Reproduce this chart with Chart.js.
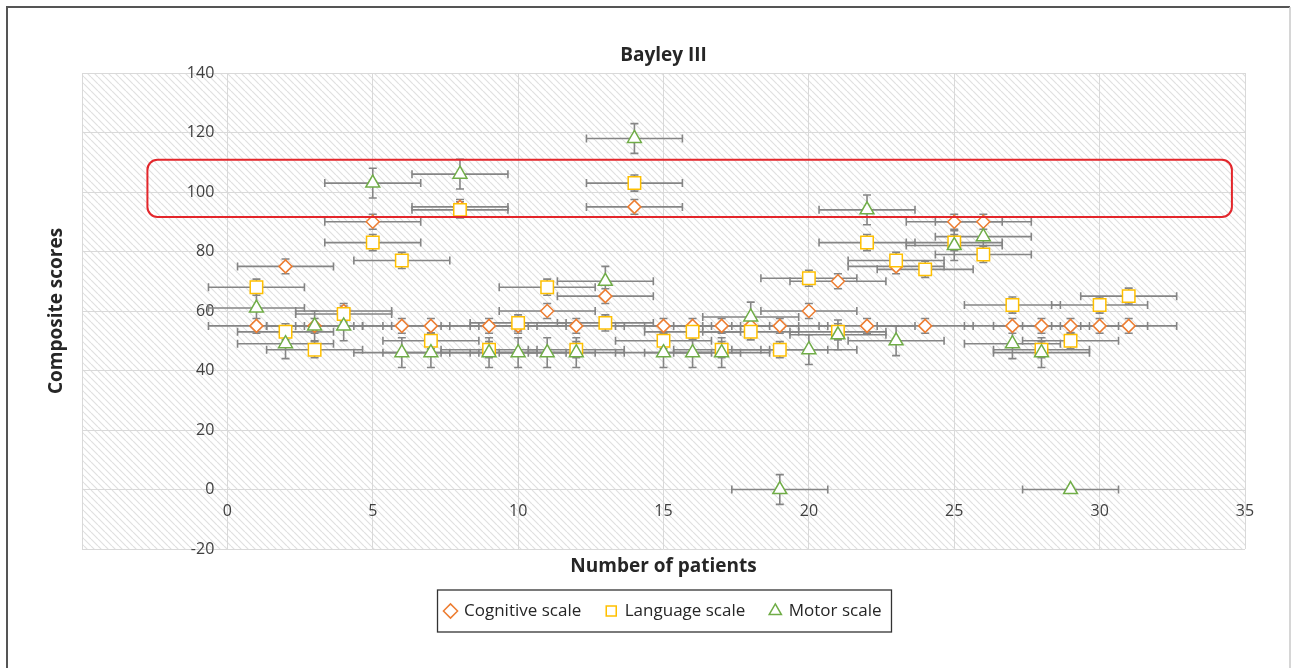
<!DOCTYPE html>
<html lang="en">
<head>
<meta charset="UTF-8">
<title>Bayley III</title>
<script src="https://cdn.jsdelivr.net/npm/chart.js"></script>
<style>
  body { margin: 0; background: #fff; }
  canvas { display: block; }
</style>
</head>
<body>
<canvas id="bayleyChart" width="1292" height="668"></canvas>
<script>
// patient number (x) and composite score per scale (y)
const patients  = [1, 2, 3, 4, 5, 6, 7, 8, 9, 10, 11, 12, 13, 14, 15, 16, 17, 18, 19, 20, 21, 22, 23, 24, 25, 26, 27, 28, 29, 30, 31];
const cognitive = [55, 75, 55, 60, 90, 55, 55, 95, 55, 55, 60, 55, 65, 95, 55, 55, 55, 55, 55, 60, 70, 55, 75, 55, 90, 90, 55, 55, 55, 55, 55];
const language  = [68, 53, 47, 59, 83, 77, 50, 94, 47, 56, 68, 47, 56, 103, 50, 53, 47, 53, 47, 71, 53, 83, 77, 74, 83, 79, 62, 47, 50, 62, 65];
const motor     = [61, 49, 55, 55, 103, 46, 46, 106, 46, 46, 46, 46, 70, 118, 46, 46, 46, 58, 0, 47, 52, 94, 50, null, 82, 85, 49, 46, 0, null, null];

// error bars (fixed values, motor ones read point by point)
const xError = 1.65;
const cognitiveErr = 2.5;
const languageErr = 2.7;
const motorErr = [5, 5, 5, 5, 5, 5, 5, 5, 5, 5, 5, 5, 5, 5, 5, 5, 5, 5, 5, 5, 5, 5, 5, 5, 5, 5, 5, 5, 0, 5, 5];

const xTicks = [0, 5, 10, 15, 20, 25, 30, 35];
const yTicks = [-20, 0, 20, 40, 60, 80, 100, 120, 140];

const FONT = '"Open Sans", Lato, sans-serif';

function points(values, errY) {
    const out = [];
    values.forEach((v, i) => {
        if (v === null) return;
        out.push({ x: patients[i], y: v, ex: xError, ey: Array.isArray(errY) ? errY[i] : errY });
    });
    return out;
}

// diagonal hatch behind the plot + outer frame
const backgroundPlugin = {
    id: 'background',
    beforeDraw(chart) {
        const { ctx, chartArea: a } = chart;
        const s = 7;
        const tile = document.createElement('canvas');
        tile.width = s; tile.height = s;
        const t = tile.getContext('2d');
        t.fillStyle = '#ffffff';
        t.fillRect(0, 0, s, s);
        t.strokeStyle = '#e0e0e0';
        t.lineWidth = 1.2;
        t.beginPath();
        [-s, 0, s].forEach(k => { t.moveTo(k, 0); t.lineTo(k + s, s); });
        t.stroke();
        ctx.save();
        ctx.fillStyle = ctx.createPattern(tile, 'repeat');
        ctx.fillRect(a.left, a.top, a.right - a.left, a.bottom - a.top);

        // frame
        ctx.strokeStyle = '#555';
        ctx.lineWidth = 2;
        ctx.beginPath();
        ctx.moveTo(7, 668); ctx.lineTo(7, 7); ctx.lineTo(1290, 7);
        ctx.stroke();
        ctx.strokeStyle = '#c8c8c8';
        ctx.lineWidth = 1.5;
        ctx.beginPath();
        ctx.moveTo(1290, 7); ctx.lineTo(1290, 668);
        ctx.stroke();
        ctx.restore();
    }
};

// horizontal and vertical error bars with caps
const errorBarPlugin = {
    id: 'errorBars',
    beforeDatasetsDraw(chart) {
        const { ctx } = chart;
        const xs = chart.scales.x, ys = chart.scales.y;
        const cap = 4;
        ctx.save();
        ctx.strokeStyle = '#858585';
        ctx.lineWidth = 1.6;
        chart.data.datasets.forEach(ds => {
            ds.data.forEach(p => {
                const px = xs.getPixelForValue(p.x);
                const py = ys.getPixelForValue(p.y);
                const x1 = xs.getPixelForValue(p.x - p.ex);
                const x2 = xs.getPixelForValue(p.x + p.ex);
                ctx.beginPath();
                ctx.moveTo(x1, py); ctx.lineTo(x2, py);
                ctx.moveTo(x1, py - cap); ctx.lineTo(x1, py + cap);
                ctx.moveTo(x2, py - cap); ctx.lineTo(x2, py + cap);
                if (p.ey > 0) {
                    const y1 = ys.getPixelForValue(p.y + p.ey);
                    const y2 = ys.getPixelForValue(p.y - p.ey);
                    ctx.moveTo(px, y1); ctx.lineTo(px, y2);
                    ctx.moveTo(px - cap, y1); ctx.lineTo(px + cap, y1);
                    ctx.moveTo(px - cap, y2); ctx.lineTo(px + cap, y2);
                }
                ctx.stroke();
            });
        });
        ctx.restore();
    }
};

// red rounded box around the upper group + border round the legend
const highlightPlugin = {
    id: 'highlight',
    afterDraw(chart) {
        const { ctx } = chart;
        const xs = chart.scales.x, ys = chart.scales.y;
        const left = xs.getPixelForValue(-2.75), right = xs.getPixelForValue(34.55);
        const top = ys.getPixelForValue(110.8), bottom = ys.getPixelForValue(91.6);
        ctx.save();
        ctx.strokeStyle = '#e3262b';
        ctx.lineWidth = 2;
        ctx.beginPath();
        ctx.roundRect(left, top, right - left, bottom - top, 10);
        ctx.stroke();

        const boxes = chart.legend.legendHitBoxes;
        if (boxes && boxes.length) {
            const l = Math.min(...boxes.map(b => b.left)) - 8;
            const r = Math.max(...boxes.map(b => b.left + b.width)) + 10;
            const cy = boxes[0].top + boxes[0].height / 2;
            ctx.strokeStyle = '#333';
            ctx.lineWidth = 1.3;
            ctx.strokeRect(l, cy - 21, r - l, 42);
        }
        ctx.restore();
    }
};

const ctx = document.getElementById('bayleyChart').getContext('2d');
new Chart(ctx, {
    type: 'scatter',
    data: {
        datasets: [
            {
                label: 'Cognitive scale',
                data: points(cognitive, cognitiveErr),
                pointStyle: 'rectRot',
                pointRadius: 6.5,
                pointBorderWidth: 1.5,
                borderColor: '#ED7D31',
                backgroundColor: '#ffffff',
                order: 3,
                xAxisID: 'x', yAxisID: 'y'
            },
            {
                label: 'Language scale',
                data: points(language, languageErr),
                pointStyle: 'rect',
                pointRadius: 8.8,
                pointBorderWidth: 1.5,
                borderColor: '#FFC000',
                backgroundColor: '#ffffff',
                order: 2,
                xAxisID: 'x', yAxisID: 'y'
            },
            {
                label: 'Motor scale',
                data: points(motor, motorErr),
                pointStyle: 'triangle',
                pointRadius: 8,
                pointBorderWidth: 1.5,
                borderColor: '#70AD47',
                backgroundColor: '#ffffff',
                order: 1,
                xAxisID: 'x', yAxisID: 'y'
            }
        ]
    },
    options: {
        responsive: false,
        animation: false,
        layout: { padding: { top: 30, left: 30, right: 47, bottom: 38.5 } },
        plugins: {
            tooltip: { enabled: false },
            title: {
                display: true,
                fullSize: false,
                text: 'Bayley III',
                color: '#262626',
                font: { family: FONT, size: 19, weight: 'bold', lineHeight: 1.2 },
                padding: { top: 14.6, bottom: 5.6 }
            },
            legend: {
                position: 'bottom',
                fullSize: false,
                labels: {
                    usePointStyle: true,
                    boxWidth: 10,
                    boxHeight: 10,
                    padding: 25,
                    color: '#262626',
                    font: { family: FONT, size: 17 },
                    sort: (a, b) => a.datasetIndex - b.datasetIndex
                }
            }
        },
        scales: {
            x: {
                type: 'linear',
                min: -5,
                max: 35,
                position: { y: 0 },
                afterBuildTicks: s => { s.ticks = [-5].concat(xTicks).map(v => ({ value: v })); },
                ticks: {
                    callback: v => (v < 0 ? '' : v),
                    color: '#404040',
                    font: { family: FONT, size: 16 },
                    padding: 12
                },
                grid: { color: '#d9d9d9', lineWidth: 1, drawTicks: false },
                border: { display: false }
            },
            y: {
                type: 'linear',
                min: -20,
                max: 140,
                // labels sit a little left of the x = 0 line
                position: { x: -0.45 },
                afterBuildTicks: s => { s.ticks = yTicks.map(v => ({ value: v })); },
                ticks: {
                    color: '#404040',
                    font: { family: FONT, size: 16 }
                },
                grid: { color: '#d9d9d9', lineWidth: 1, drawTicks: false },
                border: { display: false }
            },
            xTitle: {
                type: 'linear',
                axis: 'x',
                position: 'bottom',
                ticks: { display: false },
                grid: { display: false, drawTicks: false },
                border: { display: false },
                title: {
                    display: true,
                    text: 'Number of patients',
                    color: '#262626',
                    font: { family: FONT, size: 19, weight: 'bold', lineHeight: 1.2 },
                    padding: { top: 5.7, bottom: 0 }
                }
            },
            yTitle: {
                type: 'linear',
                axis: 'y',
                position: 'left',
                ticks: { display: false },
                grid: { display: false, drawTicks: false },
                border: { display: false },
                title: {
                    display: true,
                    text: 'Composite scores',
                    color: '#262626',
                    font: { family: FONT, size: 19, weight: 'bold', lineHeight: 1.2 },
                    padding: { top: 15.6, bottom: 13.6 }
                }
            }
        }
    },
    plugins: [backgroundPlugin, errorBarPlugin, highlightPlugin]
});
</script>
</body>
</html>
